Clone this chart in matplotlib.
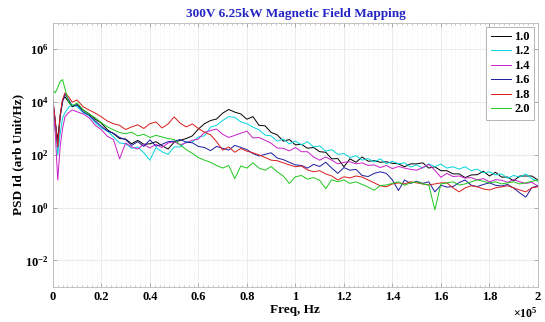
import numpy as np
import matplotlib
matplotlib.use('Agg')
import matplotlib.pyplot as plt
from matplotlib.ticker import FixedLocator, MultipleLocator, FuncFormatter

plt.rcParams['font.family'] = ['Liberation Serif', 'DejaVu Serif']
plt.rcParams['font.weight'] = 'bold'
plt.rcParams['mathtext.fontset'] = 'custom'
plt.rcParams['mathtext.rm'] = 'Liberation Serif:bold'
plt.rcParams['mathtext.it'] = 'Liberation Serif:italic:bold'
plt.rcParams['mathtext.bf'] = 'Liberation Serif:bold'

# Frequency samples (Hz): fine near DC, then every 2.5 kHz.
freq_hz = [0, 1000, 2000, 3000, 4000, 5000, 6500, 8000] + list(range(10000, 200001, 2500))

# log10 of PSD for each field setting.
psd_log_10 = [4.08, 3.2, 2.57, 3.5, 4.08, 4.2, 4.0, 3.82,
              3.9, 3.7, 3.55, 3.35, 3.2, 2.95, 2.8, 2.62, 2.6, 2.42,
              2.55, 2.4, 2.42, 2.5, 2.35, 2.22, 2.48, 2.55, 2.62, 2.72,
              2.98, 3.18, 3.3, 3.36, 3.58, 3.72, 3.62, 3.55, 3.35, 3.45,
              3.12, 3.1, 2.85, 2.76, 2.52, 2.58, 2.38, 2.4, 2.25, 2.28,
              2.12, 2.1, 1.85, 1.86, 1.55, 1.85, 1.72, 1.92, 1.76, 1.78,
              1.72, 1.74, 1.68, 1.66, 1.55, 1.66, 1.66, 1.7, 1.5, 1.55,
              1.4, 1.4, 1.28, 1.28, 1.14, 1.24, 1.25, 1.38, 1.2, 1.34,
              1.16, 1.16, 1.02, 1.2, 1.2, 1.2, 1.05]
psd_log_12 = [3.9, 3.2, 2.0, 2.8, 3.4, 3.6, 3.8, 3.9,
              3.82, 3.6, 3.48, 3.22, 3.02, 2.9, 2.68, 2.45, 2.42, 2.25,
              2.3, 2.08, 1.8, 2.28, 2.12, 2.02, 2.3, 2.3, 2.5, 2.48,
              2.68, 2.72, 3.05, 3.12, 3.3, 3.45, 3.42, 3.25, 3.18, 3.05,
              2.95, 2.75, 2.72, 2.52, 2.6, 2.42, 2.52, 2.38, 2.5, 2.3,
              2.34, 2.14, 2.2, 2.02, 2.05, 1.9, 1.97, 1.8, 1.86, 1.73,
              1.85, 1.66, 1.76, 1.66, 1.7, 1.54, 1.62, 1.5, 1.66, 1.55,
              1.65, 1.5, 1.55, 1.46, 1.55, 1.4, 1.46, 1.32, 1.36, 1.24,
              1.28, 1.12, 1.22, 1.16, 1.28, 1.1, 1.0]
psd_log_14 = [3.9, 2.8, 1.05, 2.3, 3.0, 3.45, 3.6, 3.7,
              3.63, 3.55, 3.4, 3.12, 2.95, 2.7, 2.58, 1.85, 2.45, 2.3,
              2.22, 2.4, 2.26, 2.4, 2.28, 2.45, 2.5, 2.38, 2.46, 2.55,
              2.6, 2.85, 2.92, 2.98, 2.78, 2.66, 2.74, 2.82, 2.9, 2.64,
              2.66, 2.55, 2.44, 2.26, 2.25, 2.15, 2.28, 2.12, 2.12, 1.92,
              1.8, 1.92, 1.8, 1.66, 1.72, 1.74, 1.66, 1.7, 1.6, 1.62,
              1.52, 1.6, 1.48, 1.56, 1.5, 1.45, 1.42, 1.52, 1.64, 1.42,
              1.15, 1.3, 1.18, 1.2, 1.12, 1.14, 1.05, 1.1, 0.98, 1.06,
              1.04, 0.96, 1.06, 0.98, 0.92, 0.96, 0.82]
psd_log_16 = [4.08, 3.3, 2.3, 3.4, 4.0, 4.3, 4.1, 3.85,
              3.9, 3.63, 3.5, 3.28, 3.08, 2.9, 2.82, 2.66, 2.58, 2.36,
              2.5, 2.32, 2.57, 2.33, 2.4, 2.5, 2.52, 2.58, 2.48, 2.46,
              2.32, 2.28, 2.16, 2.32, 2.25, 2.18, 2.36, 2.28, 2.2, 2.05,
              1.96, 2.02, 2.08, 1.88, 1.82, 1.72, 1.62, 1.6, 1.5, 1.64,
              1.56, 1.72, 1.5, 1.3, 1.52, 1.42, 1.45, 1.22, 1.18, 1.3,
              1.36, 1.3, 1.05, 0.65, 1.05, 0.92, 1.0, 0.92, 0.98, 0.6,
              0.85, 0.78, 0.8, 0.95, 1.05, 0.85, 0.8, 0.88, 0.94, 0.85,
              0.82, 0.88, 0.74, 0.56, 0.4, 0.76, 0.83]
psd_log_18 = [4.08, 3.3, 2.3, 3.5, 4.1, 4.35, 4.2, 4.0,
              4.08, 3.82, 3.7, 3.58, 3.44, 3.28, 3.18, 3.12, 2.96, 3.06,
              3.14, 3.0, 3.18, 3.25, 3.02, 3.17, 3.44, 3.2, 3.06, 3.17,
              3.0, 2.86, 2.76, 2.5, 2.18, 2.3, 2.1, 2.24, 2.14, 2.08,
              2.0, 1.9, 1.8, 1.78, 1.7, 1.62, 1.55, 1.58, 1.43, 1.36,
              1.4, 1.28, 1.2, 1.05, 1.17, 1.13, 1.2, 1.16, 1.05, 0.94,
              0.83, 0.79, 0.9, 0.94, 0.9, 0.98, 0.94, 0.9, 0.86, 0.9,
              0.94, 0.94, 0.75, 0.6, 0.75, 0.83, 0.79, 0.71, 0.67, 0.75,
              0.79, 0.83, 0.75, 0.67, 0.6, 0.75, 0.79]
psd_log_20 = [4.45, 4.35, 4.55, 4.78, 4.85, 4.5, 4.0, 3.86,
              3.97, 3.7, 3.55, 3.4, 3.22, 3.06, 2.95, 2.85, 2.8, 2.86,
              2.72, 2.78, 2.66, 2.74, 2.68, 2.62, 2.58, 2.38, 2.2, 2.06,
              1.9, 1.8, 1.72, 1.6, 1.5, 1.6, 1.1, 1.58, 1.5, 1.7,
              1.5, 1.42, 1.56, 1.36, 1.2, 0.92, 1.17, 1.22, 1.08, 1.14,
              1.04, 0.72, 1.06, 0.98, 1.05, 0.92, 0.98, 0.88, 0.78, 0.66,
              0.84, 0.86, 0.92, 0.98, 0.85, 0.94, 0.98, 0.9, 0.86, -0.08,
              0.9, 0.94, 0.98, 0.86, 0.9, 0.98, 1.05, 1.0, 0.94, 0.98,
              0.9, 0.94, 0.98, 0.9, 0.94, 1.0, 1.05]

labels = ['1.0', '1.2', '1.4', '1.6', '1.8', '2.0']
series = [psd_log_10, psd_log_12, psd_log_14, psd_log_16, psd_log_18, psd_log_20]
colors = ['#000000', '#00d5dd', '#c81ec8', '#1c1ca0', '#d81c1c', '#1ec81e']

fig = plt.figure(figsize=(5.45, 3.22), dpi=100, facecolor='white')
ax = fig.add_axes([0.097, 0.109, 0.890, 0.820])

freq = np.array(freq_hz, dtype=float)
for values, label, color in zip(series, labels, colors):
    ax.plot(freq, 10 ** np.array(values), color=color, lw=0.7, label=label)

ax.set_yscale('log')
ax.set_xlim(0, 2e5)
ax.set_ylim(1e-3, 1e7)

# Axis ticks and grid in a MATLAB-like style.
ax.xaxis.set_major_locator(MultipleLocator(20000))
ax.xaxis.set_minor_locator(MultipleLocator(2000))
ax.xaxis.set_major_formatter(FuncFormatter(lambda v, _: '{:g}'.format(round(v / 1e5, 2))))
ax.yaxis.set_major_locator(FixedLocator([1e-2, 1e0, 1e2, 1e4, 1e6]))
ax.yaxis.set_minor_locator(FixedLocator([]))
ax.yaxis.set_major_formatter(FuncFormatter(lambda v, _: r'$10^{%d}$' % round(np.log10(v))))

ax.tick_params(which='both', direction='in', top=True, right=True, color='#a0a0a0', labelsize=9, pad=3)
ax.tick_params(which='major', length=3, width=0.6)
ax.tick_params(which='minor', length=1.5, width=0.4)
ax.grid(which='major', color='#e8e8e8', lw=0.6)
ax.grid(which='minor', axis='x', color='#ececec', lw=0.5, ls=':')
ax.set_axisbelow(True)
for spine in ax.spines.values():
    spine.set_color('#b8b8b8')
    spine.set_linewidth(0.6)

ax.set_title('300V 6.25kW Magnetic Field Mapping', color='#2424c4', fontsize=9.5, fontweight='bold', pad=4)
ax.set_xlabel('Freq, Hz', fontsize=9.5, fontweight='bold', labelpad=1)
ax.set_ylabel('PSD Id (arb Unit/Hz)', fontsize=9.5, fontweight='bold')
ax.yaxis.set_label_coords(-0.058, 0.5)
ax.text(1.0, -0.1, r'$\times10^{5}$', transform=ax.transAxes, ha='right', va='center', fontsize=8.5)

legend = ax.legend(loc='upper right', fontsize=9, handlelength=1.6, handletextpad=0.3,
                   labelspacing=0.2, borderpad=0.35, fancybox=False, framealpha=1,
                   borderaxespad=0.3)
legend.get_frame().set_edgecolor('#a8a8a8')
legend.get_frame().set_linewidth(0.6)

fig.savefig('out.png', dpi=100, facecolor='white')
